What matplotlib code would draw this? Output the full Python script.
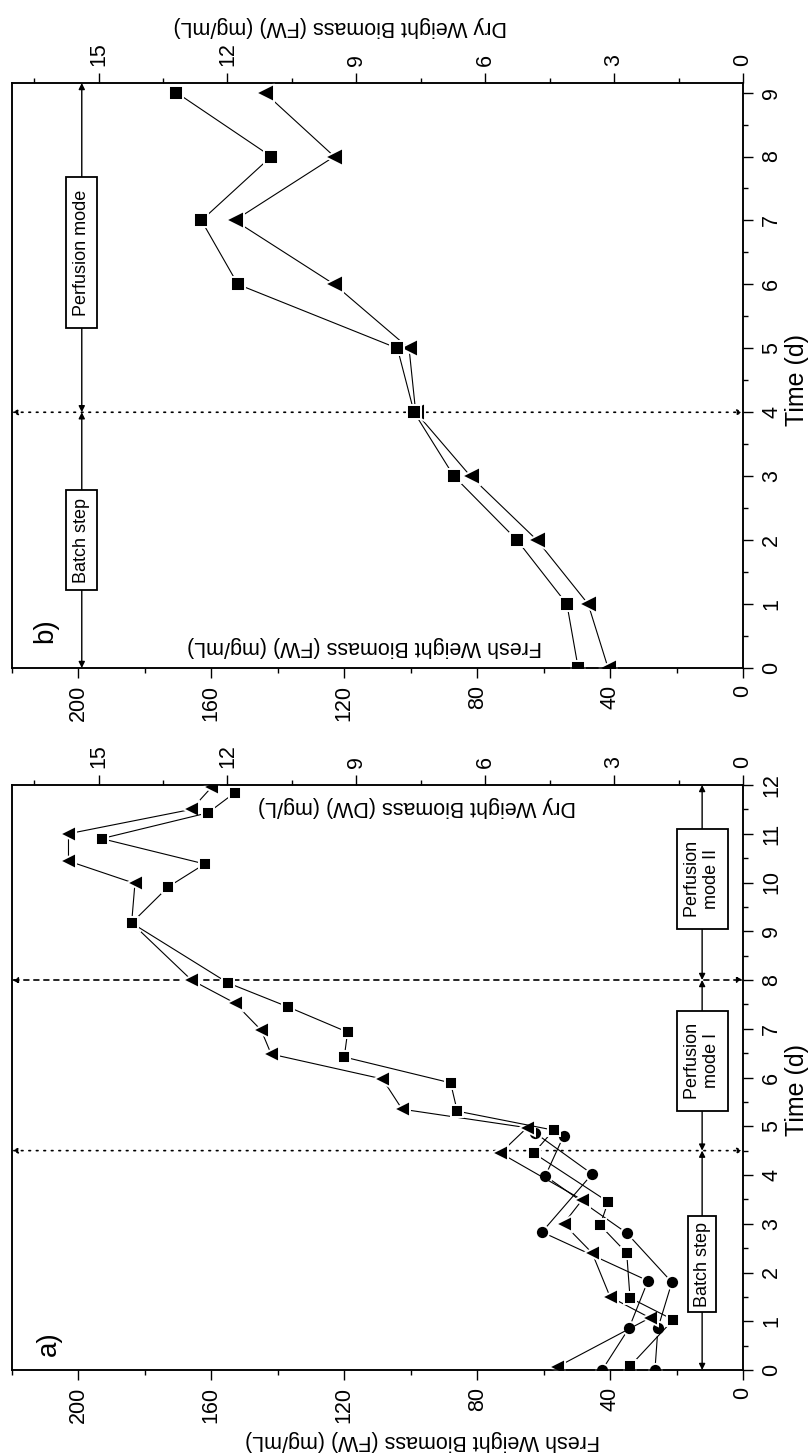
import matplotlib.pyplot as plt
from matplotlib.ticker import MultipleLocator

plt.rcParams['font.family'] = ['Liberation Sans', 'DejaVu Sans']
plt.rcParams['axes.linewidth'] = 1.1

# ---- data (time in d, fresh weight in mg/mL) ----
# panel a
a_sq_t = [0.08, 1.03, 1.48, 2.4, 2.97, 3.45, 4.45, 4.92, 5.31, 5.89, 6.42, 6.93,
          7.45, 7.94, 9.17, 9.91, 10.38, 10.9, 11.43, 11.84]
a_sq_fw = [34, 21, 34, 35, 43, 40.6, 63, 57, 86, 88, 120, 119,
           137, 155, 184, 173, 162, 193, 161, 153]
a_tri_t = [0.06, 1.07, 1.5, 2.4, 3.0, 3.49, 4.45, 4.97, 5.35, 5.97, 6.48, 6.97,
           7.53, 8.0, 9.17, 9.98, 10.44, 11.0, 11.5, 11.95]
a_tri_fw = [56, 28, 40, 45.4, 54, 48.4, 73, 65, 102.6, 108.5, 142, 145,
            153, 166, 184, 183, 203, 203, 166, 160]
a_c1_t = [0, 0.86, 1.83, 2.83, 4.02, 4.86]
a_c1_fw = [42.4, 34.3, 28.6, 60.5, 45.4, 62.5]
a_c2_t = [0, 0.86, 1.8, 2.81, 3.98, 4.8]
a_c2_fw = [26.5, 25.6, 21.4, 35, 59.5, 54]

# panel b
b_t = [0, 1, 2, 3, 4, 5, 6, 7, 8, 9]
b_sq_fw = [49.6, 53, 68, 87, 99, 104, 152, 163, 142, 170.5]
b_tri_fw = [40.6, 46.6, 62, 82, 98.5, 100.5, 123, 153, 123, 144]

FW_PER_DW = 12.93
W, H = 809, 1453

fig = plt.figure(figsize=(W / 100, H / 100), dpi=100)


def fx(x):
    return x / W


def fy(y):
    return 1 - y / H


def setup(ax, tmax):
    ax.set_xlim(220, 0)
    ax.set_ylim(0, tmax)
    ax.xaxis.set_major_locator(MultipleLocator(40))
    ax.xaxis.set_minor_locator(MultipleLocator(20))
    ax.yaxis.set_major_locator(MultipleLocator(1))
    ax.yaxis.set_minor_locator(MultipleLocator(0.5))
    ax.yaxis.set_ticks_position('right')
    ax.tick_params(which='both', direction='out', width=1.0, labelsize=15.5)
    ax.tick_params(which='major', length=7)
    ax.tick_params(which='minor', length=3.5)
    ax.tick_params(axis='x', which='both', top=False)
    ax.tick_params(axis='x', labelrotation=90, pad=5)
    ax.tick_params(axis='y', which='both', left=False, right=True,
                   labelleft=False, labelright=True)
    ax.tick_params(axis='y', labelrotation=90, pad=6)
    plt.setp(ax.get_yticklabels(), va='center')
    top = ax.twiny()
    top.set_xlim(220 / FW_PER_DW, 0)
    top.yaxis.set_ticks_position('none')
    top.tick_params(axis='y', which='both', left=False, right=False,
                    labelleft=False, labelright=False)
    top.xaxis.set_major_locator(MultipleLocator(3))
    top.xaxis.set_minor_locator(MultipleLocator(1.5))
    top.tick_params(axis='x', which='both', direction='out', width=1.0,
                    labelsize=15.5, bottom=False)
    top.tick_params(axis='x', which='major', length=7)
    top.tick_params(axis='x', which='minor', length=3.5)
    top.tick_params(axis='x', labelrotation=90, pad=5)
    return top


def series(ax, t, fw, marker, ms):
    ax.plot(fw, t, color='k', lw=0.8, marker=marker, ms=ms, mfc='k',
            mec='white', mew=1.4, zorder=3)


def span_arrow(ax, fw, t0, t1):
    ax.annotate('', xy=(fw, t0), xytext=(fw, t1),
                arrowprops=dict(arrowstyle='<|-|>', color='k', lw=1.0,
                                mutation_scale=9, shrinkA=0, shrinkB=0),
                zorder=2)


def mark_line(ax, t, ls):
    ax.annotate('', xy=(0, t), xytext=(220, t),
                arrowprops=dict(arrowstyle='<|-|>', color='k', lw=1.2, ls=ls,
                                mutation_scale=8, shrinkA=0, shrinkB=0),
                zorder=2)


def box(ax, fw, t, text, pad=0.4):
    ax.text(fw, t, text, rotation=90, ha='center', va='center', fontsize=13,
            multialignment='center', zorder=5,
            bbox=dict(boxstyle='square,pad=%s' % pad, fc='white', ec='k', lw=1.3))


# ---- panel b (upper half) ----
axb = fig.add_axes([fx(12), fy(668), 731 / W, 585 / H])
setup(axb, 9.15)
mark_line(axb, 4, (0, (1, 3.5)))
span_arrow(axb, 199, 0, 4)
span_arrow(axb, 199, 4, 9.15)
box(axb, 199, 2.0, 'Batch step')
box(axb, 199, 6.5, ' Perfusion mode ')
series(axb, b_t, b_tri_fw, '<', 12.5)
series(axb, b_t, b_sq_fw, 's', 10)
axb.text(210, 0.58, 'b)', rotation=90, ha='center', va='center', fontsize=20)

# ---- panel a (lower half) ----
axa = fig.add_axes([fx(12), fy(1370), 731 / W, 585 / H])
setup(axa, 12)
mark_line(axa, 4.5, (0, (1, 3.5)))
mark_line(axa, 8, (0, (3, 3)))
span_arrow(axa, 12.3, 0, 4.5)
span_arrow(axa, 12.3, 4.5, 8)
span_arrow(axa, 12.3, 8, 12)
box(axa, 12.3, 2.17, 'Batch step', pad=0.3)
box(axa, 12.3, 6.34, ' Perfusion \nmode I')
box(axa, 12.3, 10.07, ' Perfusion \nmode II')
series(axa, a_c1_t, a_c1_fw, 'o', 9.5)
series(axa, a_c2_t, a_c2_fw, 'o', 9.5)
series(axa, a_tri_t, a_tri_fw, '<', 12)
series(axa, a_sq_t, a_sq_fw, 's', 8.6)
axa.text(209, 0.55, 'a)', rotation=90, ha='center', va='center', fontsize=20)

# ---- axis titles (upside down / rotated as in the scan) ----
lab = dict(rotation=180, ha='center', va='center', fontsize=15.5)
fig.text(fx(340), fy(26), 'Dry Weight Biomass (FW) (mg/mL)', **lab)
fig.text(fx(365), fy(646), 'Fresh Weight Biomass (FW) (mg/mL)', **lab)
fig.text(fx(417), fy(807), 'Dry Weight Biomass (DW) (mg/L)', **lab)
fig.text(fx(423), fy(1440), 'Fresh Weight Biomass (FW) (mg/mL)', **lab)
fig.text(fx(797), fy(380), 'Time (d)', rotation=90, ha='center', va='center', fontsize=18)
fig.text(fx(797), fy(1090), 'Time (d)', rotation=90, ha='center', va='center', fontsize=18)

fig.savefig('out.png', dpi=100)
